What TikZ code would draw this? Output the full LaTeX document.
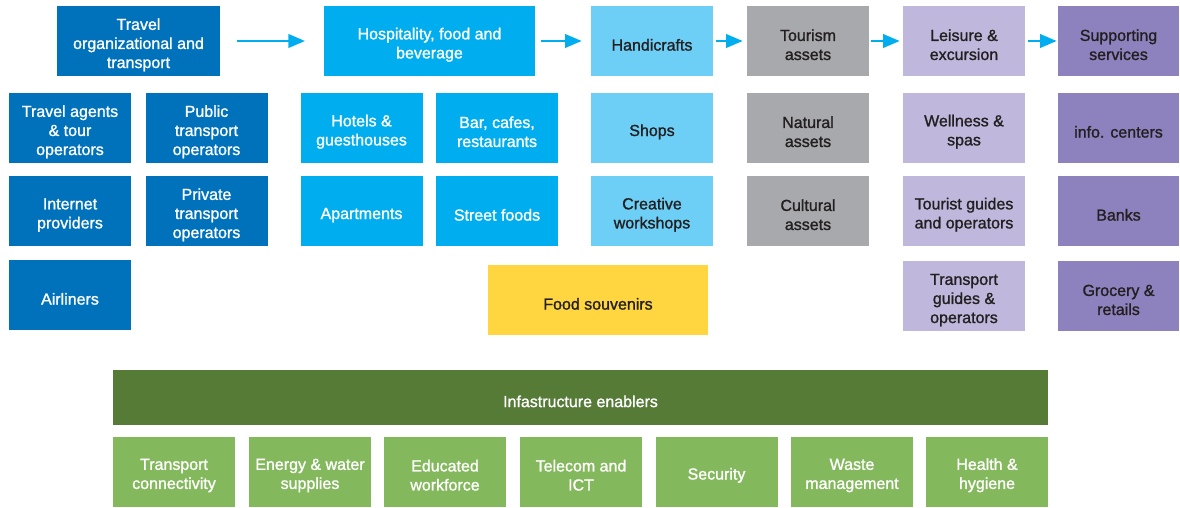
\documentclass[tikz,border=0pt]{standalone}
\usepackage{fontspec}
\setmainfont{Liberation Sans}
\newfontfamily\cellfont{Liberation Sans}[FakeBold=1.2]
\usepackage{tikz}
\usetikzlibrary{arrows.meta}

\definecolor{darkblue}{RGB}{0,114,188}
\definecolor{midblue}{RGB}{0,174,239}
\definecolor{lightblue}{RGB}{109,207,246}
\definecolor{assetgray}{RGB}{167,169,172}
\definecolor{lilac}{RGB}{191,184,220}
\definecolor{violet}{RGB}{142,130,190}
\definecolor{souvenir}{RGB}{255,213,64}
\definecolor{darkgreen}{RGB}{85,123,55}
\definecolor{lightgreen}{RGB}{132,184,92}
\definecolor{ink}{RGB}{35,31,32}

\tikzset{
  cell/.style={minimum width=91.5pt, minimum height=52.5pt, inner sep=0pt,
    align=center, font=\cellfont\fontsize{12}{14.3}\selectfont, text=ink,
    execute at begin node={\rule{0pt}{14.5pt}}},
  lines2/.style={execute at begin node={\rule{0pt}{28.6pt}}},
  lines3/.style={execute at begin node={\rule{0pt}{43pt}}},
  travelcell/.style={cell, fill=darkblue, text=white},
  foodcell/.style={cell, fill=midblue, text=white},
  craftcell/.style={cell, fill=lightblue},
  assetcell/.style={cell, fill=assetgray},
  leisurecell/.style={cell, fill=lilac},
  supportcell/.style={cell, fill=violet},
  infracell/.style={cell, fill=lightgreen, text=white},
  flow/.style={draw=midblue, line width=2pt, -{Triangle[length=12.5pt,width=10pt]}}
}

\begin{document}
\begin{tikzpicture}[x=0.75pt, y=-0.75pt]
\useasboundingbox (0,0) rectangle (1180,507);

% Top row
\node[travelcell, lines3, minimum width=122.25pt] (travel) at (138.5,41) {Travel\\organizational and\\transport};
\node[foodcell, lines2, minimum width=158.25pt] (hosp) at (429.5,41) {Hospitality, food and\\beverage};
\node[craftcell] (handi) at (652,41) {Handicrafts};
\node[assetcell, lines2] (tourism) at (808,41) {Tourism\\assets};
\node[leisurecell, lines2] (leisure) at (964,41) {Leisure \&\\excursion};
\node[supportcell, lines2, minimum width=90.75pt] (support) at (1118.5,41) {Supporting\\services};

% Travel column
\node[travelcell, lines3] (agents) at (70,128) {Travel agents\\\& tour\\operators};
\node[travelcell, lines3] (public) at (206.5,128) {Public\\transport\\operators};
\node[travelcell, lines2] (internet) at (70,211) {Internet\\providers};
\node[travelcell, lines3] (private) at (206.5,211) {Private\\transport\\operators};
\node[travelcell] (airliners) at (70,295) {Airliners};

% Hospitality column
\node[foodcell, lines2] (hotels) at (361.5,128) {Hotels \&\\guesthouses};
\node[foodcell, lines2] (bars) at (497,128) {Bar, cafes,\\restaurants};
\node[foodcell] (apartments) at (361.5,211) {Apartments};
\node[foodcell] (street) at (497,211) {Street foods};
\node[cell, fill=souvenir, minimum width=165pt] (souvenirs) at (598,300) {Food souvenirs};

% Handicrafts column
\node[craftcell] (shops) at (652,128) {Shops};
\node[craftcell, lines2] (workshops) at (652,211) {Creative\\workshops};

% Assets column
\node[assetcell, lines2] (natural) at (808,128) {Natural\\assets};
\node[assetcell, lines2] (cultural) at (808,211) {Cultural\\assets};

% Leisure column
\node[leisurecell, lines2] (wellness) at (964,128) {Wellness \&\\spas};
\node[leisurecell, lines2] (guides) at (964,211) {Tourist guides\\and operators};
\node[leisurecell, lines3] (tguides) at (964,296) {Transport\\guides \&\\operators};

% Supporting column
\node[supportcell, minimum width=90.75pt] (info) at (1118.5,128) {info. centers};
\node[supportcell, minimum width=90.75pt] (banks) at (1118.5,211) {Banks};
\node[supportcell, lines2, minimum width=90.75pt] (grocery) at (1118.5,296) {Grocery \&\\retails};

% Flow arrows
\draw[flow, shorten <=12.75pt, shorten >=14pt] (travel) -- (hosp);
\draw[flow, shorten <=4.5pt, shorten >=6.75pt] (hosp) -- (handi);
\draw[flow, shorten <=2.25pt, shorten >=3pt] (handi) -- (tourism);
\draw[flow, shorten <=1.5pt, shorten >=2.25pt] (tourism) -- (leisure);
\draw[flow, shorten <=2.25pt, shorten >=0.75pt] (leisure) -- (support);

% Infrastructure
\node[cell, fill=darkgreen, text=white, minimum width=701.25pt, minimum height=41.25pt,
  execute at begin node={\rule{0pt}{11.5pt}}] (infra) at (580.5,397.5) {Infastructure enablers};
\node[infracell, lines2] (connect) at (174,471.5) {Transport\\connectivity};
\node[infracell, lines2] (energy) at (310,471.5) {Energy \& water\\supplies};
\node[infracell, lines2] (workforce) at (445,471.5) {Educated\\workforce};
\node[infracell, lines2] (telecom) at (581,471.5) {Telecom and\\ICT};
\node[infracell] (security) at (716.5,471.5) {Security};
\node[infracell, lines2] (waste) at (852,471.5) {Waste\\management};
\node[infracell, lines2] (health) at (987,471.5) {Health \&\\hygiene};
\end{tikzpicture}
\end{document}
